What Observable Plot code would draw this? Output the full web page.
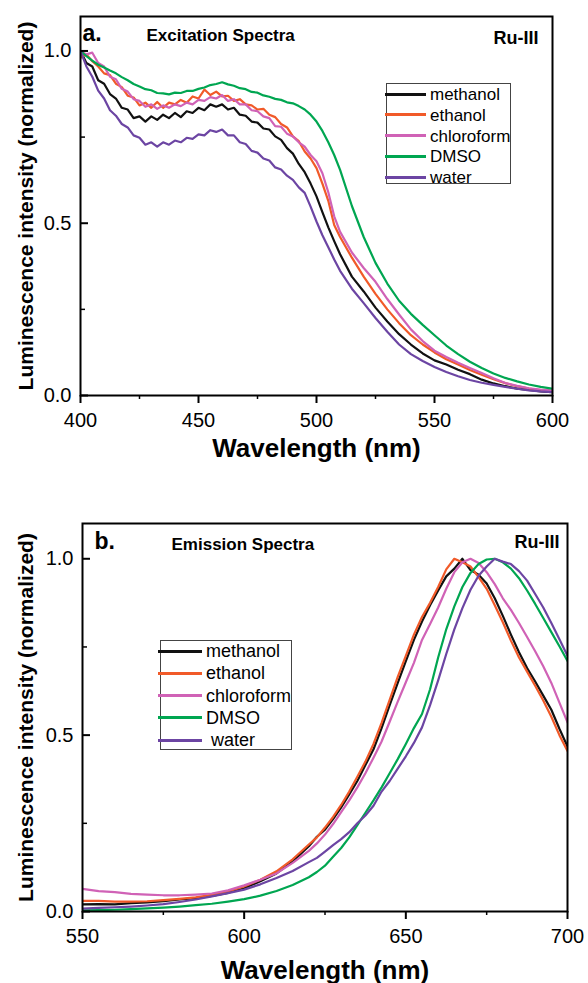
<!DOCTYPE html>
<html>
<head>
<meta charset="utf-8">
<script src="https://cdn.jsdelivr.net/npm/d3@7"></script>
<script src="https://cdn.jsdelivr.net/npm/@observablehq/plot@0.6"></script>
<style>
  html, body { margin: 0; padding: 0; background: #fff; }
  #wrap { position: relative; width: 588px; height: 983px; overflow: hidden; font-family: "Liberation Sans", Arial, sans-serif; }
  .panel { position: absolute; left: 0; }
  .legend { position: absolute; box-sizing: border-box; border: 1px solid #444; background: #fff; }
  .legend .row { position: absolute; left: 0; right: 0; height: 0; }
  .legend .sw { position: absolute; height: 3px; }
  .legend .lab { position: absolute; line-height: 1; white-space: pre; color: #000; transform: translateY(-50%); }
</style>
</head>
<body>
<div id="wrap"></div>
<script>
// ---------- data ----------
const solvents = ["methanol", "ethanol", "chloroform", "DMSO", "water"];
const solventColors = ["#111111", "#f15a29", "#d062b6", "#00a651", "#6c45a3"];

// Panel a: excitation spectra
const exWavelength = [400,402.5,405,407.5,410,412.5,415,417.5,420,422.5,425,427.5,430,432.5,435,437.5,440,442.5,445,447.5,450,452.5,455,457.5,460,462.5,465,467.5,470,472.5,475,477.5,480,482.5,485,487.5,490,492.5,495,497.5,500,502.5,505,507.5,510,515,520,525,530,535,540,545,550,555,560,565,570,575,580,585,590,595,600];
const exMethanol = [1.0,0.965,0.955,0.915,0.905,0.875,0.862,0.835,0.83,0.805,0.81,0.795,0.81,0.80,0.815,0.805,0.82,0.808,0.825,0.82,0.835,0.828,0.845,0.838,0.845,0.83,0.835,0.815,0.812,0.795,0.792,0.775,0.772,0.752,0.742,0.718,0.702,0.672,0.648,0.615,0.578,0.532,0.488,0.448,0.41,0.345,0.302,0.255,0.215,0.178,0.148,0.122,0.102,0.09,0.075,0.062,0.046,0.035,0.027,0.02,0.016,0.012,0.01];
const exEthanol = [0.98,0.99,0.97,0.955,0.935,0.93,0.905,0.895,0.87,0.865,0.842,0.85,0.835,0.852,0.835,0.85,0.845,0.858,0.85,0.868,0.862,0.888,0.872,0.882,0.868,0.87,0.855,0.86,0.845,0.842,0.83,0.832,0.815,0.808,0.788,0.778,0.752,0.738,0.708,0.688,0.66,0.615,0.565,0.495,0.46,0.4,0.345,0.295,0.25,0.21,0.175,0.148,0.125,0.105,0.09,0.074,0.06,0.047,0.036,0.027,0.02,0.015,0.012];
const exChloroform = [1.0,0.99,0.995,0.965,0.955,0.925,0.918,0.89,0.882,0.86,0.855,0.838,0.845,0.832,0.842,0.835,0.845,0.84,0.85,0.845,0.858,0.855,0.866,0.862,0.872,0.855,0.86,0.845,0.845,0.828,0.825,0.81,0.805,0.782,0.78,0.76,0.752,0.735,0.722,0.698,0.68,0.645,0.59,0.52,0.475,0.415,0.37,0.33,0.28,0.235,0.192,0.158,0.13,0.112,0.095,0.08,0.065,0.05,0.036,0.028,0.021,0.017,0.015];
const exDMSO = [1.0,0.985,0.972,0.96,0.952,0.943,0.935,0.924,0.915,0.904,0.897,0.889,0.886,0.878,0.877,0.874,0.879,0.878,0.884,0.884,0.89,0.894,0.901,0.904,0.909,0.903,0.899,0.892,0.889,0.881,0.879,0.871,0.867,0.861,0.858,0.851,0.848,0.84,0.83,0.815,0.795,0.768,0.735,0.698,0.655,0.55,0.46,0.385,0.325,0.275,0.237,0.205,0.175,0.145,0.12,0.098,0.08,0.064,0.051,0.041,0.032,0.025,0.02];
const exWater = [1.0,0.955,0.925,0.885,0.862,0.828,0.812,0.788,0.778,0.755,0.748,0.728,0.735,0.722,0.735,0.728,0.74,0.735,0.748,0.745,0.758,0.755,0.77,0.765,0.772,0.755,0.755,0.735,0.73,0.71,0.705,0.688,0.682,0.662,0.656,0.638,0.626,0.604,0.588,0.548,0.505,0.465,0.43,0.395,0.362,0.31,0.268,0.225,0.185,0.148,0.12,0.1,0.083,0.068,0.056,0.045,0.037,0.031,0.025,0.02,0.015,0.012,0.01];

// Panel b: emission spectra
const emWavelength = [550,555,560,565,570,575,580,585,590,595,600,605,610,615,620,622.5,625,627.5,630,632.5,635,637.5,640,642.5,645,647.5,650,652.5,655,657.5,660,662.5,665,667.5,670,672.5,675,677.5,680,682.5,685,687.5,690,692.5,695,697.5,700];
const emMethanol = [0.02,0.021,0.02,0.024,0.026,0.029,0.034,0.038,0.044,0.053,0.066,0.086,0.108,0.142,0.185,0.212,0.232,0.262,0.295,0.332,0.37,0.415,0.46,0.52,0.585,0.648,0.71,0.77,0.822,0.868,0.91,0.95,0.972,1.0,0.968,0.955,0.93,0.888,0.838,0.785,0.735,0.69,0.652,0.612,0.572,0.518,0.468];
const emEthanol = [0.03,0.03,0.028,0.028,0.029,0.032,0.036,0.04,0.047,0.057,0.071,0.09,0.114,0.148,0.19,0.21,0.238,0.268,0.302,0.34,0.382,0.425,0.475,0.535,0.6,0.665,0.725,0.785,0.835,0.875,0.92,0.97,1.0,0.99,0.978,0.948,0.915,0.868,0.82,0.768,0.72,0.68,0.64,0.598,0.552,0.5,0.455];
const emChloroform = [0.064,0.058,0.055,0.05,0.048,0.046,0.046,0.048,0.051,0.06,0.074,0.09,0.108,0.138,0.172,0.193,0.218,0.248,0.282,0.315,0.352,0.392,0.436,0.482,0.538,0.595,0.65,0.705,0.77,0.815,0.862,0.915,0.962,0.99,1.0,0.988,0.962,0.928,0.888,0.855,0.818,0.778,0.738,0.695,0.648,0.592,0.536];
const emDMSO = [0.003,0.004,0.005,0.007,0.009,0.011,0.014,0.018,0.022,0.028,0.035,0.045,0.058,0.075,0.097,0.112,0.13,0.155,0.18,0.21,0.245,0.28,0.315,0.352,0.392,0.432,0.475,0.52,0.56,0.63,0.72,0.8,0.865,0.92,0.96,0.985,0.998,1.0,0.99,0.972,0.945,0.91,0.872,0.832,0.792,0.752,0.71];
const emWater = [0.008,0.01,0.012,0.014,0.017,0.021,0.027,0.034,0.043,0.052,0.062,0.077,0.095,0.115,0.14,0.152,0.17,0.188,0.205,0.225,0.25,0.272,0.3,0.34,0.37,0.405,0.44,0.478,0.522,0.585,0.655,0.73,0.8,0.86,0.912,0.952,0.978,1.0,0.992,0.985,0.965,0.938,0.9,0.862,0.818,0.772,0.725];

// ticks and labels
const yMajorTicks = [0, 0.5, 1.0];
const yMinorTicks = [0.25, 0.75];
const exXMajor = [400, 450, 500, 550, 600];
const exXMinor = [425, 475, 525, 575];
const emXMajor = [550, 600, 650, 700];
const emXMinor = [575, 625, 675];
const yTitle = "Luminescence intensity (normalized)";
const xTitle = "Wavelength (nm)";
const emLegendLabels = ["methanol", "ethanol", "chloroform", "DMSO", " water"];

// ---------- helpers ----------
function tidy(xs, series) {
  const out = [];
  solvents.forEach((s, i) => xs.forEach((x, j) => out.push({x, y: series[i][j], s})));
  return out;
}

const wrap = d3.select("#wrap");
const FONT = "'Liberation Sans', Arial, Helvetica, sans-serif";

function panel(cfg) {
  const innerW = 588 - cfg.ml - cfg.mr;
  const chart = Plot.plot({
    width: 588,
    height: cfg.height,
    marginTop: cfg.mt, marginBottom: cfg.mb, marginLeft: cfg.ml, marginRight: cfg.mr,
    style: {fontFamily: FONT, background: "transparent", color: "#000", overflow: "visible"},
    x: {domain: cfg.xDomain},
    y: {domain: [0, 1.1]},
    color: {domain: solvents, range: solventColors},
    marks: [
      Plot.lineY(cfg.data, {x: "x", y: "y", z: "s", stroke: "s", strokeWidth: 2.2, clip: true}),
      Plot.frame({stroke: "#000", strokeWidth: 2}),
      Plot.tickY(yMajorTicks, {y: d => d, insetRight: innerW - 8, stroke: "#000", strokeWidth: 2}),
      Plot.tickY(yMinorTicks, {y: d => d, insetRight: innerW - 5, stroke: "#000", strokeWidth: 1.5}),
      Plot.axisY({ticks: yMajorTicks, tickSize: 0, tickPadding: 9, tickFormat: d3.format(".1f"), fontSize: 20, label: null}),
      Plot.axisX({ticks: cfg.xMajor, tickSize: 8, tickPadding: 9, strokeWidth: 2, fontSize: 20, tickFormat: d => String(d), label: null}),
      Plot.axisX({ticks: cfg.xMinor, tickSize: 4, strokeWidth: 1.5, tickFormat: () => "", label: null}),
      Plot.text([cfg.letter], {text: d => d, frameAnchor: "top-left", textAnchor: "start", lineAnchor: "bottom", dx: cfg.letterDx, dy: cfg.letterDy, fontSize: 23, fontWeight: "bold"}),
      Plot.text([cfg.title], {text: d => d, frameAnchor: "top-left", textAnchor: "start", lineAnchor: "bottom", dx: cfg.titleDx, dy: cfg.titleDy, fontSize: 17, fontWeight: "bold"}),
      Plot.text(["Ru-III"], {text: d => d, frameAnchor: "top-right", textAnchor: "end", lineAnchor: "bottom", dx: cfg.ruDx, dy: cfg.ruDy, fontSize: 18, fontWeight: "bold"}),
      Plot.text([yTitle], {text: d => d, frameAnchor: "left", textAnchor: "middle", lineAnchor: "middle", rotate: -90, dx: cfg.yTitleDx, fontSize: 21, fontWeight: "bold"}),
      Plot.text([xTitle], {text: d => d, frameAnchor: "bottom", textAnchor: "middle", lineAnchor: "bottom", dy: cfg.xTitleDy, fontSize: 26, fontWeight: "bold"})
    ]
  });
  const holder = wrap.append("div").attr("class", "panel").style("top", cfg.top + "px");
  holder.node().appendChild(chart);

  // legend (inside the frame, HTML overlay)
  const L = cfg.legend;
  const box = wrap.append("div").attr("class", "legend")
    .style("left", L.left + "px").style("top", L.top + "px")
    .style("width", L.width + "px").style("height", L.height + "px");
  L.labels.forEach((lab, i) => {
    const row = box.append("div").attr("class", "row").style("top", (L.first + i * L.gap) + "px");
    row.append("div").attr("class", "sw")
      .style("left", L.lineLeft + "px").style("width", L.lineWidth + "px")
      .style("top", "-1.5px").style("background", solventColors[i]);
    row.append("div").attr("class", "lab")
      .style("left", L.textLeft + "px").style("top", "0px")
      .style("font-size", L.fontSize + "px").text(lab);
  });
}

panel({
  top: 0, height: 470, mt: 16, mb: 75, ml: 80, mr: 36,
  xDomain: [400, 600], xMajor: exXMajor, xMinor: exXMinor,
  data: tidy(exWavelength, [exMethanol, exEthanol, exChloroform, exDMSO, exWater]),
  letter: "a.", letterDx: 2, letterDy: 24,
  title: "Excitation Spectra", titleDx: 66, titleDy: 24,
  ruDx: -14, ruDy: 27,
  yTitleDx: -54, xTitleDy: 61,
  legend: {left: 386, top: 83, width: 125, height: 101, first: 10, gap: 20.75,
           lineLeft: -2, lineWidth: 41, textLeft: 43, fontSize: 17, labels: solvents}
});

panel({
  top: 470, height: 513, mt: 53, mb: 72, ml: 82, mr: 21,
  xDomain: [550, 700], xMajor: emXMajor, xMinor: emXMinor,
  data: tidy(emWavelength, [emMethanol, emEthanol, emChloroform, emDMSO, emWater]),
  letter: "b.", letterDx: 12, letterDy: 25,
  title: "Emission Spectra", titleDx: 89, titleDy: 26,
  ruDx: -8, ruDy: 24,
  yTitleDx: -56, xTitleDy: 67,
  legend: {left: 160, top: 640, width: 132, height: 110, first: 10, gap: 22.25,
           lineLeft: -3, lineWidth: 44, textLeft: 45, fontSize: 18, labels: emLegendLabels}
});
</script>
</body>
</html>
